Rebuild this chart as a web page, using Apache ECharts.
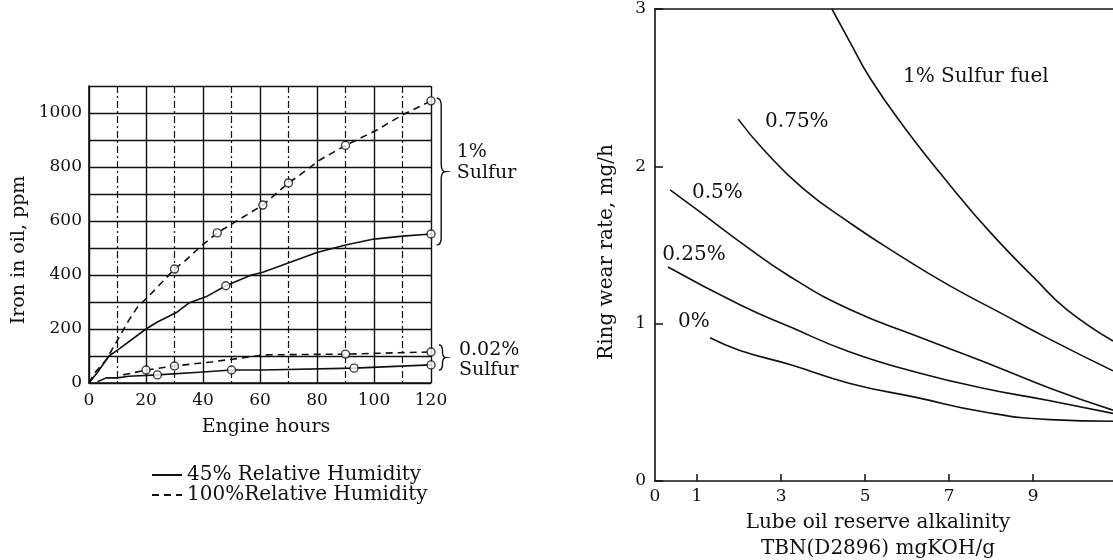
<!DOCTYPE html>
<html>
<head>
<meta charset="utf-8">
<script src="https://cdn.jsdelivr.net/npm/echarts@6/dist/echarts.min.js"></script>
<style>
html, body { margin: 0; background: #fff; }
#chart { width: 1113px; height: 560px; }
</style>
</head>
<body>
<div id="chart"></div>
<script>
// ---- left panel: iron in oil vs engine hours ----
// drawn curves, [hours, ppm]
const sulfur1Rh45 = [[0, 0], [3, 40], [7, 100], [10, 122], [20, 200], [24, 226], [31, 263], [35, 296], [41, 319], [48, 360], [57, 400], [61, 410], [80, 483], [90, 511], [100, 533], [110, 544], [120, 552]]
const sulfur1Rh100 = [[0, 0], [2, 37], [6, 85], [14, 233], [17, 281], [22, 333], [30, 422], [34, 455], [39, 504], [45, 556], [61, 659], [70, 741], [73, 763], [81, 826], [90, 880], [101, 937], [110, 993], [120, 1045]]
const sulfur002Rh45 = [[3, 5], [6, 19], [10, 19], [14, 25], [24, 30], [40, 41], [50, 48], [61, 48], [93, 55], [120, 67]]
const sulfur002Rh100 = [[12, 30], [20, 48], [30, 63], [43, 78], [56, 96], [61, 104], [90, 107], [120, 115]]
// measured points (open circles)
const sulfur1Rh45Pts = [[48, 360], [120, 552]]
const sulfur1Rh100Pts = [[30, 422], [45, 556], [61, 659], [70, 741], [90, 880], [120, 1045]]
const sulfur002Rh45Pts = [[24, 30], [50, 48], [93, 55], [120, 67]]
const sulfur002Rh100Pts = [[20, 48], [30, 63], [90, 107], [120, 115]]

// ---- right panel: ring wear vs TBN ----
// [TBN, mg/h]
const fuel100 = [[4.21, 3.0], [4.64, 2.79], [5.12, 2.56], [5.9, 2.26], [7.02, 1.88], [7.98, 1.58], [9.1, 1.27], [9.8, 1.09], [10.9, 0.89]]
const fuel075 = [[1.98, 2.3], [2.57, 2.11], [3.52, 1.86], [4.64, 1.64], [5.9, 1.42], [7.02, 1.24], [8.21, 1.07], [9.4, 0.9], [10.9, 0.7]]
const fuel050 = [[0.36, 1.85], [1.07, 1.71], [2.02, 1.52], [3.21, 1.3], [4.64, 1.09], [6.24, 0.92], [7.81, 0.76], [9.4, 0.59], [10.9, 0.45]]
const fuel025 = [[0.31, 1.36], [2.02, 1.12], [3.21, 0.98], [4.64, 0.82], [6.24, 0.69], [7.81, 0.59], [9.4, 0.51], [10.9, 0.43]]
const fuel000 = [[1.31, 0.91], [2.02, 0.83], [3.21, 0.74], [4.64, 0.62], [6.24, 0.53], [7.81, 0.44], [9.4, 0.39], [10.9, 0.38]]
const tbnLabels = [0, 1, 3, 5, 7, 9]
const tbnTicks = [1, 3, 5, 7, 9]

const ink = '#111'
const serif = "'DejaVu Serif', 'Liberation Serif', serif"

let myChart = echarts.init(document.getElementById('chart'))

function curve (name, data, dashed, xi) {
  return {
    name: name,
    type: 'line',
    xAxisIndex: xi,
    yAxisIndex: xi,
    data: data,
    symbol: 'none',
    smooth: xi === 1 ? 0.5 : false,
    lineStyle: {color: ink, width: 1.6, type: dashed ? [7, 5] : 'solid'},
    itemStyle: {color: ink},
    silent: true
  }
}
function dots (data) {
  return {
    type: 'scatter',
    xAxisIndex: 0,
    yAxisIndex: 0,
    data: data,
    symbol: 'circle',
    symbolSize: 8,
    itemStyle: {color: '#fff', borderColor: ink, borderWidth: 1.4},
    z: 5,
    silent: true
  }
}

myChart.setOption({
  backgroundColor: '#fff',
  animation: false,
  textStyle: {fontFamily: serif, color: ink},
  grid: [
    {left: 89, top: 86, width: 342, height: 297, outerBoundsMode: 'none'},
    {left: 655, top: 9, width: 458, height: 472, outerBoundsMode: 'none'}
  ],
  legend: {
    data: ['45% Relative Humidity', '100%Relative Humidity'],
    orient: 'vertical',
    left: 146,
    top: 460,
    itemWidth: 30,
    itemHeight: 10,
    itemGap: 0,
    selectedMode: false,
    itemStyle: {opacity: 0},
    textStyle: {fontFamily: serif, fontSize: 20, color: ink}
  },
  xAxis: [
    {
      gridIndex: 0, type: 'value', min: 0, max: 120, interval: 20,
      name: 'Engine hours', nameLocation: 'middle', nameGap: 35,
      nameTextStyle: {fontFamily: serif, fontSize: 19, color: ink, padding: [0, 0, 0, 12]},
      axisLine: {lineStyle: {color: ink, width: 1.6}},
      axisTick: {show: false},
      axisLabel: {fontFamily: serif, fontSize: 17, color: ink, margin: 9},
      splitLine: {lineStyle: {color: ink, width: 1.4}},
      minorTick: {show: false, splitNumber: 2},
      minorSplitLine: {show: true, lineStyle: {color: ink, width: 1.2, type: [7, 3, 2, 3]}}
    },
    {
      gridIndex: 1, type: 'value', min: 0, max: 10.9,
      name: 'Lube oil reserve alkalinity\nTBN(D2896) mgKOH/g', nameLocation: 'middle', nameGap: 29,
      nameTextStyle: {fontFamily: serif, fontSize: 20, color: ink, lineHeight: 26, verticalAlign: 'top', padding: [0, 12, 0, 0]},
      axisLine: {lineStyle: {color: ink, width: 1.6}},
      axisTick: {inside: true, length: 7, lineStyle: {color: ink, width: 1.5}, customValues: tbnTicks},
      axisLabel: {fontFamily: serif, fontSize: 17, color: ink, margin: 7, customValues: tbnLabels},
      splitLine: {show: false}
    },
    {
      gridIndex: 1, type: 'value', min: 0, max: 10.9, position: 'top',
      axisLine: {lineStyle: {color: ink, width: 1.6}},
      axisTick: {show: false}, axisLabel: {show: false}, splitLine: {show: false}
    }
  ],
  yAxis: [
    {
      gridIndex: 0, type: 'value', min: 0, max: 1100, interval: 100,
      name: 'Iron in oil, ppm', nameLocation: 'middle', nameGap: 60,
      nameTextStyle: {fontFamily: serif, fontSize: 19, color: ink, padding: [0, 31, 0, 0]},
      axisLine: {show: true, lineStyle: {color: ink, width: 1.6}},
      axisTick: {show: false},
      axisLabel: {
        fontFamily: serif, fontSize: 17, color: ink, margin: 7,
        formatter: v => (v % 200 === 0 && v <= 1000) ? String(v) : ''
      },
      splitLine: {lineStyle: {color: ink, width: 1.4}}
    },
    {
      gridIndex: 1, type: 'value', min: 0, max: 3, interval: 1,
      name: 'Ring wear rate, mg/h', nameLocation: 'middle', nameGap: 38,
      nameTextStyle: {fontFamily: serif, fontSize: 20, color: ink, padding: [0, 14, 0, 0]},
      axisLine: {show: true, lineStyle: {color: ink, width: 1.6}},
      axisTick: {inside: true, length: 8, lineStyle: {color: ink, width: 1.5}},
      axisLabel: {fontFamily: serif, fontSize: 17, color: ink, margin: 9},
      splitLine: {show: false}
    }
  ],
  series: [
    curve('45% Relative Humidity', sulfur1Rh45, false, 0),
    curve('45% Relative Humidity', sulfur002Rh45, false, 0),
    curve('100%Relative Humidity', sulfur1Rh100, true, 0),
    curve('100%Relative Humidity', sulfur002Rh100, true, 0),
    dots(sulfur1Rh45Pts),
    dots(sulfur1Rh100Pts),
    dots(sulfur002Rh45Pts),
    dots(sulfur002Rh100Pts),
    curve('1%', fuel100, false, 1),
    curve('0.75%', fuel075, false, 1),
    curve('0.5%', fuel050, false, 1),
    curve('0.25%', fuel025, false, 1),
    curve('0%', fuel000, false, 1)
  ]
})

// annotations, placed through the axes
const leftAt = p => myChart.convertToPixel({xAxisIndex: 0, yAxisIndex: 0}, p)
const rightAt = p => myChart.convertToPixel({xAxisIndex: 1, yAxisIndex: 1}, p)

// curly brace as a polyline made of quadratic pieces
function bracePoints (x, y1, y2, w) {
  let mid = (y1 + y2) / 2
  let r = Math.min(8, (y2 - y1) / 4)
  let h = x + w / 2
  let pieces = [
    [[x, y1], [h, y1], [h, y1 + r]],
    [[h, y1 + r], [h, mid - r], [h, mid - r]],
    [[h, mid - r], [h, mid], [x + w, mid]],
    [[x + w, mid], [h, mid], [h, mid + r]],
    [[h, mid + r], [h, y2 - r], [h, y2 - r]],
    [[h, y2 - r], [h, y2], [x, y2]]
  ]
  let pts = []
  pieces.forEach(q => {
    for (let i = 0; i <= 8; i++) {
      let t = i / 8
      let a = (1 - t) * (1 - t), b = 2 * t * (1 - t), c = t * t
      pts.push([a * q[0][0] + b * q[1][0] + c * q[2][0], a * q[0][1] + b * q[1][1] + c * q[2][1]])
    }
  })
  return pts
}

const graphics = []
const braces = [
  {x: 122, top: 1055, bottom: 511, w: 9, text: '1%\nSulfur', textAt: 815, lh: 21},
  {x: 122.8, top: 141, bottom: 48, w: 7, text: '0.02%\nSulfur', textAt: 85, lh: 20}
]
braces.forEach(b => {
  let a = leftAt([b.x, b.top])
  let c = leftAt([b.x, b.bottom])
  let t = leftAt([b.x, b.textAt])
  graphics.push({
    type: 'polyline', silent: true,
    shape: {points: bracePoints(a[0], a[1], c[1], b.w)},
    style: {fill: null, stroke: ink, lineWidth: 1.4}
  })
  graphics.push({
    type: 'text', silent: true, x: a[0] + 20, y: t[1],
    style: {text: b.text, font: '19px ' + serif, fill: ink, lineHeight: b.lh, verticalAlign: 'middle', align: 'left'}
  })
})

const curveNotes = [
  {text: '1% Sulfur fuel', at: [5.9, 2.57]},
  {text: '0.75%', at: [2.62, 2.28]},
  {text: '0.5%', at: [0.88, 1.83]},
  {text: '0.25%', at: [0.17, 1.44]},
  {text: '0%', at: [0.55, 1.01]}
]
curveNotes.forEach(n => {
  let p = rightAt(n.at)
  graphics.push({
    type: 'text', silent: true, x: p[0], y: p[1],
    style: {text: n.text, font: '20px ' + serif, fill: ink, verticalAlign: 'middle', align: 'left'}
  })
})

myChart.setOption({graphic: graphics})
</script>
</body>
</html>
